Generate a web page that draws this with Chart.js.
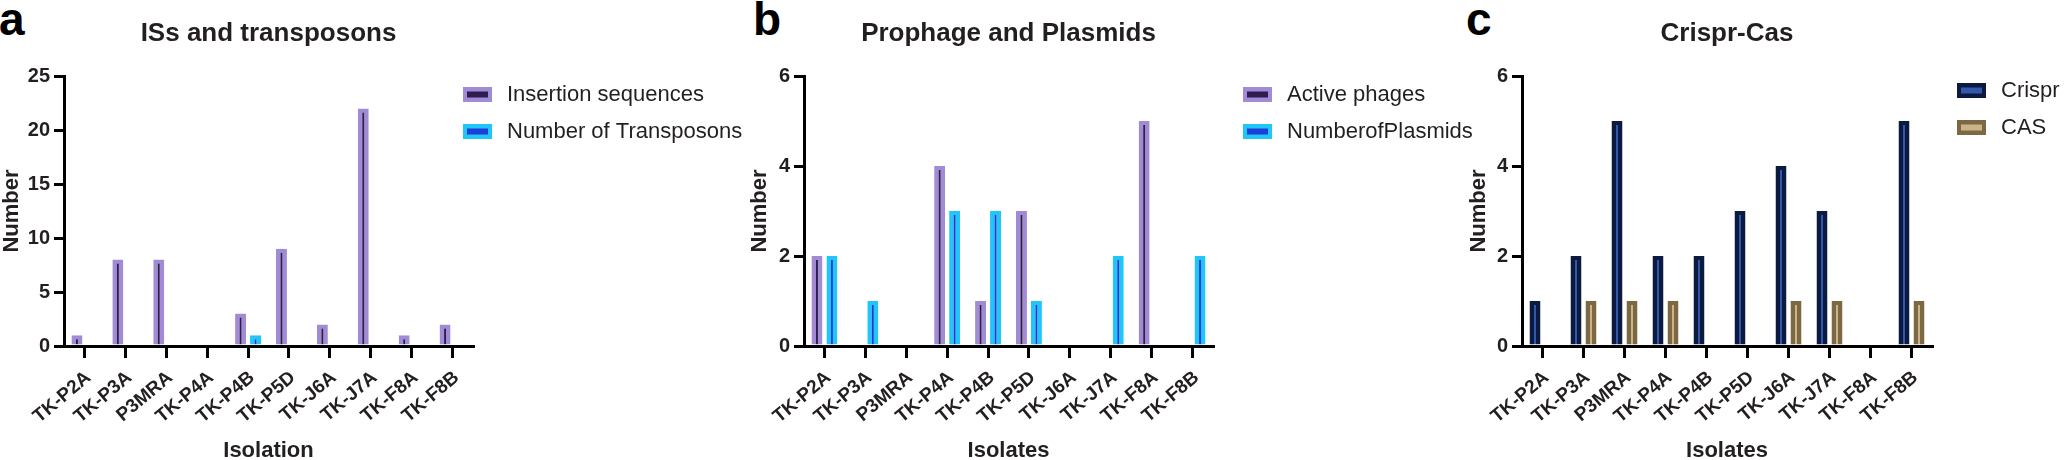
<!DOCTYPE html>
<html>
<head>
<meta charset="utf-8">
<script src="https://cdn.jsdelivr.net/npm/chart.js@4.4.1/dist/chart.umd.min.js"></script>
<style>
  html, body { margin: 0; padding: 0; background: #ffffff; width: 2064px; height: 460px; overflow: hidden; }
  canvas { position: absolute; top: 0; }
  .letter { position: absolute; font-family: 'Liberation Sans', Arial, sans-serif; font-weight: bold; font-size: 46px; line-height: 46px; color: #000; }
</style>
</head>
<body>
<div class="letter" style="left:-1px; top:-4px;">a</div>
<div class="letter" style="left:753px; top:-4px;">b</div>
<div class="letter" style="left:1466px; top:-4px;">c</div>
<canvas id="chartA" width="760" height="470" style="left:-10px;"></canvas>
<canvas id="chartB" width="760" height="470" style="left:730px;"></canvas>
<canvas id="chartC" width="616" height="470" style="left:1448px;"></canvas>
<script>
// ---------- data ----------
const isolates = ['TK-P2A', 'TK-P3A', 'P3MRA', 'TK-P4A', 'TK-P4B', 'TK-P5D', 'TK-J6A', 'TK-J7A', 'TK-F8A', 'TK-F8B'];

const insertionSequences = [1, 8, 8, 0, 3, 9, 2, 22, 1, 2];
const transposons        = [0, 0, 0, 0, 1, 0, 0, 0, 0, 0];

const activePhages       = [2, 0, 0, 4, 1, 3, 0, 0, 5, 0];
const plasmids           = [2, 1, 0, 3, 3, 1, 0, 2, 0, 2];

const crispr             = [1, 2, 5, 2, 2, 3, 4, 3, 0, 5];
const cas                = [0, 1, 1, 1, 0, 0, 1, 1, 0, 1];

const yMaxA = 25, yStepA = 5;
const yMaxB = 6,  yStepB = 2;
const yMaxC = 6,  yStepC = 2;

// ---------- styling ----------
const FONT = "'Liberation Sans', Arial, Helvetica, sans-serif";
const TXT = '#231f20';
Chart.defaults.font.family = FONT;
Chart.defaults.color = TXT;

const STY = {
  purple: { borderColor: '#a18ad6', backgroundColor: '#2d1e4f' },
  cyan:   { borderColor: '#1fc6f7', backgroundColor: '#1d3fd8' },
  navy:   { borderColor: '#0c1a40', backgroundColor: '#3158aa' },
  brown:  { borderColor: '#7c6843', backgroundColor: '#cbb488' }
};

const boxLegend = {
  id: 'boxLegend',
  afterDraw(chart, args, o) {
    const ctx = chart.ctx;
    chart.data.datasets.forEach((ds, i) => {
      const x = o.x, y = o.y + i * o.gap;
      ctx.save();
      ctx.fillStyle = ds.borderColor;
      ctx.fillRect(x, y, o.w, o.h);
      ctx.fillStyle = ds.backgroundColor;
      ctx.fillRect(x + o.ix, y + o.iy, o.w - 2 * o.ix, o.h - 2 * o.iy);
      ctx.fillStyle = TXT;
      ctx.font = 'normal 22px ' + FONT;
      ctx.textBaseline = 'middle';
      ctx.textAlign = 'left';
      ctx.fillText(ds.label, o.tx, y + o.h / 2 + 0.5);
      ctx.restore();
    });
  }
};

function bar(label, data, sty) {
  return {
    label, data,
    borderColor: sty.borderColor,
    backgroundColor: sty.backgroundColor,
    borderWidth: { top: 4, left: 4.5, right: 4.5, bottom: 0 },
    borderSkipped: 'start',
    categoryPercentage: 0.732,
    barPercentage: 0.733
  };
}

function makeChart(id, cfg) {
  const canvasLeft = cfg.canvasLeft;
  const canvas = document.getElementById(id);
  const W = canvas.width;
  const areaLeft = cfg.areaLeft - canvasLeft;
  const areaRight = cfg.areaRight - canvasLeft;
  return new Chart(canvas, {
    type: 'bar',
    data: { labels: isolates, datasets: cfg.datasets },
    plugins: [boxLegend],
    options: {
      responsive: false,
      animation: false,
      devicePixelRatio: 1,
      layout: { padding: { left: 0, right: W - areaRight, top: 0, bottom: 0 } },
      plugins: {
        legend: { display: false },
        tooltip: { enabled: false },
        title: {
          display: true,
          text: cfg.title,
          fullSize: false,
          color: TXT,
          font: { size: 26, weight: 'bold', lineHeight: 1.2 },
          padding: { top: 18, bottom: 26.8 }
        },
        boxLegend: {
          x: cfg.legendX - canvasLeft, y: cfg.legendY, gap: 37,
          w: 29, h: 15, ix: 4, iy: 4.5,
          tx: cfg.legendX - canvasLeft + 44
        }
      },
      scales: {
        x: {
          offset: true,
          grid: { offset: false, drawOnChartArea: false, drawTicks: true, tickLength: 12, lineWidth: 3, color: '#000' },
          border: { display: true, width: 3, color: '#000' },
          ticks: { autoSkip: false, maxRotation: 40, minRotation: 40, padding: 8.5, labelOffset: 4, color: TXT,
                   font: { size: 19, weight: 'bold' } },
          title: { display: true, text: cfg.xTitle, color: TXT,
                   font: { size: 22, weight: 'bold', lineHeight: 1 }, padding: { top: 0, bottom: 8 } },
          afterFit: (s) => { s.height = 470 - 346; }
        },
        y: {
          min: 0, max: cfg.yMax,
          ticks: { stepSize: cfg.yStep, padding: 4, color: TXT, font: { size: 20, weight: 'bold' } },
          grid: { drawOnChartArea: false, drawTicks: true, tickLength: 10, lineWidth: 3, color: '#000' },
          border: { display: true, width: 3, color: '#000' },
          title: { display: true, text: 'Number', color: TXT,
                   font: { size: 22, weight: 'bold', lineHeight: 1 }, padding: { top: cfg.yTitlePad, bottom: 0 } },
          afterFit: (s) => { s.width = areaLeft; }
        }
      }
    }
  });
}

makeChart('chartA', {
  canvasLeft: -10, areaLeft: 64, areaRight: 473,
  title: 'ISs and transposons', xTitle: 'Isolation', yMax: yMaxA, yStep: yStepA, yTitlePad: 11,
  legendX: 463, legendY: 87,
  datasets: [bar('Insertion sequences', insertionSequences, STY.purple),
             bar('Number of Transposons', transposons, STY.cyan)]
});

makeChart('chartB', {
  canvasLeft: 730, areaLeft: 804, areaRight: 1213,
  title: 'Prophage and Plasmids', xTitle: 'Isolates', yMax: yMaxB, yStep: yStepB, yTitlePad: 19,
  legendX: 1243, legendY: 87,
  datasets: [bar('Active phages', activePhages, STY.purple),
             bar('NumberofPlasmids', plasmids, STY.cyan)]
});

makeChart('chartC', {
  canvasLeft: 1448, areaLeft: 1522, areaRight: 1932,
  title: 'Crispr-Cas', xTitle: 'Isolates', yMax: yMaxC, yStep: yStepC, yTitlePad: 20,
  legendX: 1957, legendY: 83,
  datasets: [bar('Crispr', crispr, STY.navy),
             bar('CAS', cas, STY.brown)]
});
</script>
</body>
</html>
